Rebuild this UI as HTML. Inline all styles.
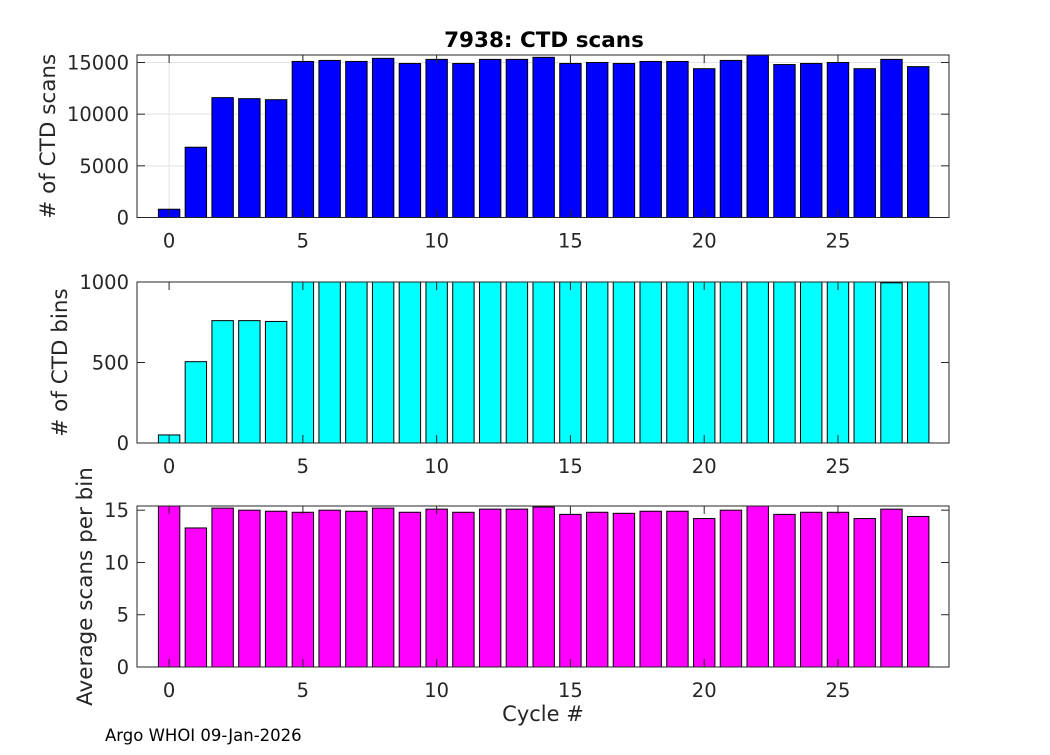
<!DOCTYPE html>
<html><head><meta charset="utf-8"><style>
body{margin:0;background:#fff;}
svg text{font-family:"DejaVu Sans","Liberation Sans",sans-serif;fill:#262626;}
</style></head><body>
<svg id="chart" width="1050" height="750" xmlns="http://www.w3.org/2000/svg">
<rect width="1050" height="750" fill="#fff"/>
<text x="544" y="47" text-anchor="middle" font-size="21.5" font-weight="bold" style="fill:#000">7938: CTD scans</text>
<text x="543" y="721" text-anchor="middle" font-size="21">Cycle #</text>
<text x="105" y="741" font-size="16.5" style="fill:#000">Argo WHOI 09-Jan-2026</text>
</svg>
<script>
const cycles=[0,1,2,3,4,5,6,7,8,9,10,11,12,13,14,15,16,17,18,19,20,21,22,23,24,25,26,27,28];
const scans=[800,6800,11600,11500,11400,15100,15200,15100,15400,14900,15300,14900,15300,15300,15500,14900,15000,14900,15100,15100,14400,15200,15700,14800,14900,15000,14400,15300,14600];
const bins=[50,505,760,760,755,1000,1000,1000,1000,1000,1000,1000,1000,1000,1000,1000,1000,1000,1000,1000,1000,1000,1000,1000,1000,1000,1000,995,1000];
const avgScans=[15.4,13.3,15.2,15.0,14.9,14.8,15.0,14.9,15.2,14.8,15.1,14.8,15.1,15.1,15.3,14.6,14.8,14.7,14.9,14.9,14.2,15.0,15.4,14.6,14.8,14.8,14.2,15.1,14.4];
const xTicks=[0,5,10,15,20,25];
const ticks1=[0,5000,10000,15000];
const ticks2=[0,500,1000];
const ticks3=[0,5,10,15];
const NS="http://www.w3.org/2000/svg";
const svg=document.getElementById('chart');
function mk(t,a,p){const e=document.createElementNS(NS,t);for(const k in a)e.setAttribute(k,a[k]);(p||svg).appendChild(e);return e;}
const L=137,R=949,xMin=-1.2,xMax=29.15;
const xs=v=>L+(v-xMin)/(xMax-xMin)*(R-L);
function panel(name,top,bot,yMax,vals,yt,color,ylabel,grid,labX){
 const ys=v=>bot-Math.min(v,yMax)/yMax*(bot-top);
 const g=mk('g',{});
 
 
 if(grid){
  xTicks.forEach(t=>{const l=mk('line',{x1:xs(t),x2:xs(t),y1:top,y2:bot,stroke:'#e3e3e3','stroke-width':1},g);});
  yt.forEach(t=>{const l=mk('line',{x1:L,x2:R,y1:ys(t),y2:ys(t),stroke:'#e3e3e3','stroke-width':1},g);});
 }
 cycles.forEach((c,i)=>{
  const y=ys(vals[i]);
  const r=mk('rect',{x:xs(c-0.4),y:y,width:xs(c+0.4)-xs(c-0.4),height:bot-y,fill:color,stroke:'#000','stroke-width':1},g);
  
  
 });
 const ax=mk('rect',{x:L,y:top,width:R-L,height:bot-top,fill:'none',stroke:'#262626','stroke-width':1},g);
 
 
 xTicks.forEach(t=>{
  mk('line',{x1:xs(t),x2:xs(t),y1:bot,y2:bot-8,stroke:'#262626'},g);
  mk('line',{x1:xs(t),x2:xs(t),y1:top,y2:top+8,stroke:'#262626'},g);
  const tx=mk('text',{x:xs(t),y:bot+30,'text-anchor':'middle','font-size':19.5},g);tx.textContent=t;
  
  
 });
 yt.forEach(t=>{
  mk('line',{x1:L,x2:L+8,y1:ys(t),y2:ys(t),stroke:'#262626'},g);
  mk('line',{x1:R,x2:R-8,y1:ys(t),y2:ys(t),stroke:'#262626'},g);
  const tx=mk('text',{x:L-8,y:ys(t)+7,'text-anchor':'end','font-size':19.5},g);tx.textContent=t;
  
  
 });
 const yl=mk('text',{x:0,y:0,'text-anchor':'middle','font-size':21.5,transform:`translate(${labX},${(top+bot)/2}) rotate(-90)`},g);
 yl.textContent=ylabel;
 
 
}
panel('panel-ctd-scans',55,217.5,15725,scans,ticks1,'#0000ff','# of CTD scans',true,55);
panel('panel-ctd-bins',282,443,1000,bins,ticks2,'#00ffff','# of CTD bins',false,67);
panel('panel-avg-scans',506,667,15.4,avgScans,ticks3,'#ff00ff','Average scans per bin',false,92);
</script>
</body></html>
